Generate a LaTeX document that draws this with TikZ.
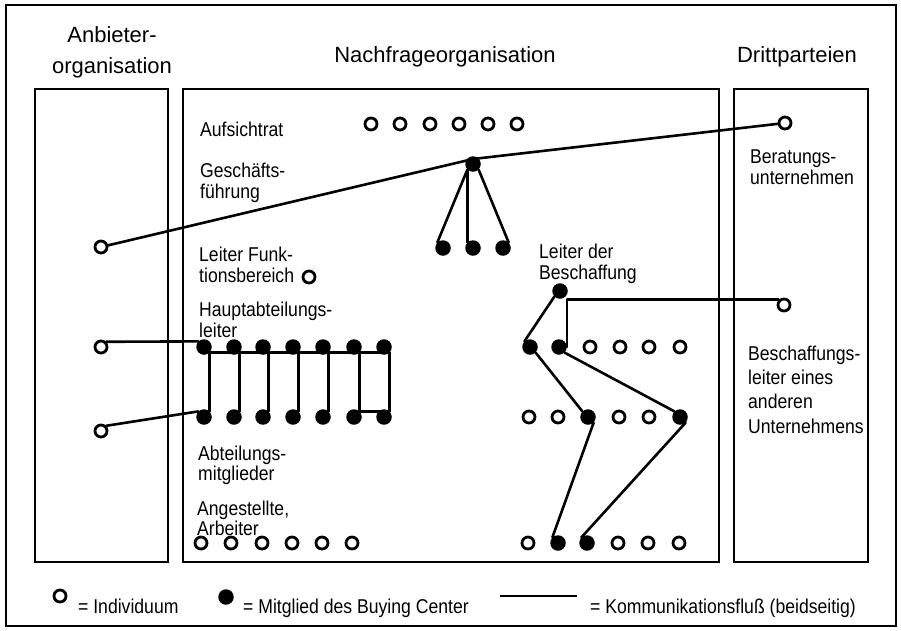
\documentclass[tikz,border=0pt]{standalone}
\usepackage{fontspec}
\setmainfont{Liberation Sans}
\newfontfamily\labfont[FakeStretch=0.88]{Liberation Sans}
\newcommand\lab{\labfont\fontsize{20}{20.5}\selectfont}
\newcommand\ttl{\fontsize{22}{31}\selectfont}
\newcommand\lstack[1]{\vtop{\halign{##\hfil\cr#1\crcr}}}
\newcommand\cstack[1]{\vtop{\halign{\hfil##\hfil\cr#1\crcr}}}
\tikzset{
  ind/.style={circle, draw=black, line width=2.8pt, fill=white, minimum size=12pt, inner sep=0pt},
  mem/.style={circle, fill=black, minimum size=15.5pt, inner sep=0pt},
  com/.style={line width=2.6pt, line cap=round, line join=round},
  boxline/.style={line width=2.8pt},
  frame/.style={line width=2pt},
  lbl/.style={anchor=base west, inner sep=0pt, font=\lab},
  ttlnode/.style={anchor=base, inner sep=0pt, font=\ttl},
}
\begin{document}
\begin{tikzpicture}[x=1pt,y=-1pt]
\useasboundingbox (0,0) rectangle (901,630);
\fill[white] (0,0) rectangle (901,630);
% frames
\draw[frame] (6,5) rectangle (896,626);
\draw[boxline] (35,89) rectangle (168,562);
\draw[boxline] (183,89) rectangle (719,562);
\draw[boxline] (734,89) rectangle (868,562);
% titles
\node[ttlnode] (tA) at (112,42) {\cstack{Anbieter-\cr organisation}};
\node[ttlnode] (tN) at (445,62) {Nachfrageorganisation};
\node[ttlnode] (tD) at (797,62) {Drittparteien};
% labels
\node[lbl] (lAuf) at (200,136) {Aufsichtrat};
\node[lbl] (lGf) at (200,177.5) {\lstack{Geschäfts-\cr führung}};
\node[lbl] (lLF) at (199,261.5) {\lstack{Leiter Funk-\cr tionsbereich}};
\node[lbl] (lHA) at (199,316.5) {\lstack{Hauptabteilungs-\cr leiter}};
\node[lbl] (lAM) at (198,460) {\lstack{Abteilungs-\cr mitglieder}};
\node[lbl] (lAA) at (197,515) {\lstack{Angestellte,\cr Arbeiter}};
\node[lbl] (lLB) at (539,258.5) {\lstack{Leiter der\cr Beschaffung}};
\node[lbl] (lBU) at (750,163.5) {\lstack{Beratungs-\cr unternehmen}};
\node[lbl] (lBL) at (748,360) {\baselineskip=24.4pt\lstack{Beschaffungs-\cr leiter eines\cr anderen\cr Unternehmens}};
% Aufsichtsrat
\foreach \x [count=\i] in {371,400,430,459,488,517} \node[ind] (a\i) at (\x,124) {};
% Geschaeftsfuehrung
\node[mem] (gf) at (473,164) {};
\node[mem] (g1) at (443,248) {};
\node[mem] (g2) at (473,248) {};
\node[mem] (g3) at (503,248) {};
\coordinate (gfk) at ([yshift=5pt]gf.center);
% Leiter Funktionsbereich
\node[ind] (lf) at (309,277) {};
% Anbieter
\node[ind] (l1) at (101,247) {};
\node[ind] (l2) at (101,347) {};
\node[ind] (l3) at (101,431) {};
% Hauptabteilungsleiter / Abteilungsmitglieder
\foreach \x [count=\i] in {204,234,263,293,323,354,384} {
  \node[mem] (h\i) at (\x,347) {};
  \node[mem] (m\i) at (\x,417) {};
}
% Angestellte
\foreach \x [count=\i] in {201,231,262,292,322,352} \node[ind] (w\i) at (\x,543) {};
% Beschaffung
\node[mem] (lb) at (560,291) {};
\node[mem] (r1a) at (530,347) {};
\node[mem] (r1b) at (559,347) {};
\node[ind] (r1c) at (590,347) {};
\node[ind] (r1d) at (620,347) {};
\node[ind] (r1e) at (649,347) {};
\node[ind] (r1f) at (680,347) {};
\node[ind] (r2a) at (529,417) {};
\node[ind] (r2b) at (558,417) {};
\node[mem] (r2c) at (588,417) {};
\node[ind] (r2d) at (619,417) {};
\node[ind] (r2e) at (649,417) {};
\node[mem] (r2f) at (680,417) {};
\node[ind] (r3a) at (528,543) {};
\node[mem] (r3b) at (558,543) {};
\node[mem] (r3c) at (587,543) {};
\node[ind] (r3d) at (618,543) {};
\node[ind] (r3e) at (648,543) {};
\node[ind] (r3f) at (679,543) {};
% Drittparteien
\node[ind] (ber) at (785,123) {};
\node[ind] (bl) at (784,305) {};
% connectors
\draw[com] (l1) -- (gfk) -- (ber);
\draw[com] (gf.south west) -- (g1.north west);
\draw[com] (gf.south west) -- (g2.north west);
\draw[com] (gf.south east) -- (g3.north east);
\draw[com] (l2.north east) -- (h1.north west);
\draw[com] (l3.north east) -- (m1.north west);
\draw[com] (h1.south east) -- (h7.south east);
\foreach \i in {1,...,7} \draw[com] (h\i.south east) -- (m\i.north east);
\draw[com] (m6.north east) -- (m7.north east);
\draw[com] (lb.south west) -- (r1a.north west);
\draw[com] (bl.north west) -| (r1b.east);
\draw[com] (r1a.south east) -- (r2c.north west);
\draw[com] (r1b.south east) -- (r2f.north west);
\draw[com] (r2c.south east) -- (r3b.north west);
\draw[com] (r2f.south east) -- (r3c.north west);
% legend
\node[ind] (legI) at (60,596) {};
\node[lbl] (legIt) at (78,613) {= Individuum};
\node[mem] (legM) at (226,597) {};
\node[lbl] (legMt) at (243,613) {= Mitglied des Buying Center};
\coordinate (legA) at (500,596);
\coordinate (legB) at (577,596);
\draw[com, line cap=butt] (legA) -- (legB);
\node[lbl] (legKt) at (590,613) {= Kommunikationsfluß (beidseitig)};
\end{tikzpicture}
\end{document}
